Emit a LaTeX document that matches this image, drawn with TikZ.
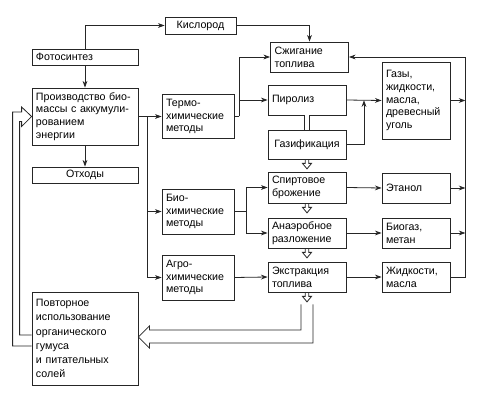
\documentclass[tikz,border=0pt]{standalone}
\usepackage{fontspec}
\setmainfont{Liberation Sans}
\usepackage{xcolor}
\usetikzlibrary{arrows.meta,calc}
\definecolor{ink}{HTML}{262626}
\tikzset{
  procbox/.style={draw=ink,line width=0.6pt,inner xsep=3pt,inner ysep=1pt,
                  align=left,font=\fontsize{8}{9.6}\selectfont},
  leftcol/.style={procbox,text width=73.5pt},
  methcol/.style={procbox,text width=48pt},
  proccol/.style={procbox,text width=52.5pt},
  prodcol/.style={procbox,text width=45pt},
  flowarr/.style={draw=ink,-{Stealth[length=5pt,width=3.6pt]},line width=0.6pt},
  plain/.style={draw=ink,line width=0.6pt},
  pipe/.style={draw=ink,line width=0.6pt,line join=miter},
  hollowdown/.pic={\draw[pipe] (-1.8,0) -- (-1.8,4) -- (-4.5,4) -- (0,9.5)
                   -- (4.5,4) -- (1.8,4) -- (1.8,0);}
}

\begin{document}
\begin{tikzpicture}[x=0.75pt,y=-0.75pt]
  \useasboundingbox (0,0) rectangle (486,406);
  % left column
  \node[procbox,text width=47.25pt,align=center,minimum height=12.75pt] (kisl) at (200.5,25.5) {Кислород};
  \node[leftcol,minimum height=12pt] (foto) at (85,57) {Фотосинтез};
  \node[leftcol,minimum height=42.75pt] (proizv) at (85,116.5)
    {Производство био-\\массы с аккумули-\\рованием\\энергии};
  \node[leftcol,align=center,minimum height=12pt] (othody) at (85,175) {Отходы};
  \node[leftcol,minimum height=69.75pt,font=\fontsize{8}{10.6}\selectfont] (povt) at (85,338.5)
    {Повторное\\использование\\органического\\гумуса\\и питательных\\солей};
  % methods
  \node[methcol,minimum height=32.5pt] (termo) at (198,116.5) {Термо-\\химические\\методы};
  \node[methcol,minimum height=33.75pt] (bio) at (198,211.5) {Био-\\химические\\методы};
  \node[methcol,minimum height=33.75pt] (agro) at (198,277.5) {Агро-\\химические\\методы};
  % processes
  \node[proccol,minimum height=22.5pt] (szhig) at (309.5,57) {Сжигание\\топлива};
  \node[proccol,minimum height=22.5pt] (piroliz) at (307,100) {Пиролиз};
  \node[proccol,align=center,minimum height=21.75pt] (gazif) at (307,144.5) {Газификация};
  \node[proccol,minimum height=23.25pt] (spirt) at (307,187.5) {Спиртовое\\брожение};
  \node[proccol,minimum height=22.5pt] (anaer) at (307,233) {Анаэробное\\разложение};
  \node[proccol,minimum height=22.5pt] (ekstr) at (307,277) {Экстракция\\топлива};
  % products
  \node[prodcol,minimum height=57.75pt] (gazy) at (416,100.5)
    {Газы,\\жидкости,\\масла,\\древесный\\уголь};
  \node[prodcol,minimum height=22.5pt] (etanol) at (416,188) {Этанол};
  \node[prodcol,minimum height=22.5pt] (biogaz) at (416,233) {Биогаз,\\метан};
  \node[prodcol,minimum height=22.5pt] (zhidk) at (416,277) {Жидкости,\\масла};

  % photosynthesis and biomass
  \draw[flowarr] (foto.north) |- (kisl.west);
  \draw[flowarr] (kisl.east) -| (szhig.north);
  \draw[flowarr] (foto.south) -- (proizv.north);
  \draw[flowarr] (proizv.south) -- (othody.north);
  \draw[flowarr] (proizv.east) -- (termo.west);
  \coordinate (pb) at ($(proizv.east)+(9,0)$);
  \draw[flowarr] (pb) |- (bio.west);
  \draw[flowarr] (pb) |- (agro.west);

  % thermochemical branch
  \draw[plain] (termo.east) -- ++(5,0) coordinate (tb);
  \draw[flowarr] (tb) |- (szhig.west);
  \draw[flowarr] (tb) |- (piroliz.west);
  \draw[flowarr] (piroliz.east) -- (gazy.west);
  \draw[flowarr] (gazif.east) -| ($(piroliz.east)!0.5!(gazy.west)$);
  \draw[pipe,double,double distance=3.5pt] (piroliz.south) -- (gazif.north);

  % biochemical branch
  \draw[plain] (bio.east) -- ++(12,0) coordinate (bb);
  \draw[flowarr] (bb) |- (spirt.west);
  \draw[flowarr] (bb) |- (anaer.west);
  \draw[flowarr] (agro.east) -- (ekstr.west);
  \draw[flowarr] (spirt.east) -- (etanol.west);
  \draw[flowarr] (anaer.east) -- (biogaz.west);
  \draw[flowarr] (ekstr.east) -- (zhidk.west);

  % small hollow arrows
  \pic at (gazif.south) {hollowdown};
  \pic at (spirt.south) {hollowdown};
  \pic at (anaer.south) {hollowdown};
  \pic at (ekstr.south) {hollowdown};

  % return bus to combustion
  \draw[flowarr] (zhidk.east) -- ++(15,0) coordinate (rb) |- (szhig.east);
  \draw[flowarr] (gazy.east) -- (gazy.east -| rb);
  \draw[flowarr] (etanol.east) -- (etanol.east -| rb);
  \draw[flowarr] (biogaz.east) -- (biogaz.east -| rb);

  % wide hollow arrows (recycling)
  \draw[pipe] ($(ekstr.south)+(-6,12)$) |- ($(povt.east)+(11,-8.5)$) -- ++(0,-4)
    -- ($(povt.east)+(0,-1.5)$) -- ++(11,11) -- ++(0,-5) -| ($(ekstr.south)+(6,12)$);
  \draw[pipe] ($(povt.west)+(0,7.5)$) -- ++(-19,0) |- ($(proizv.west)+(-10,-4.5)$)
    -- ++(0,-5) -- (proizv.west) -- ++(-10,10) -- ++(0,-5)
    -| ($(povt.west)+(-12,-3.5)$) -- ++(12,0);
\end{tikzpicture}
\end{document}
